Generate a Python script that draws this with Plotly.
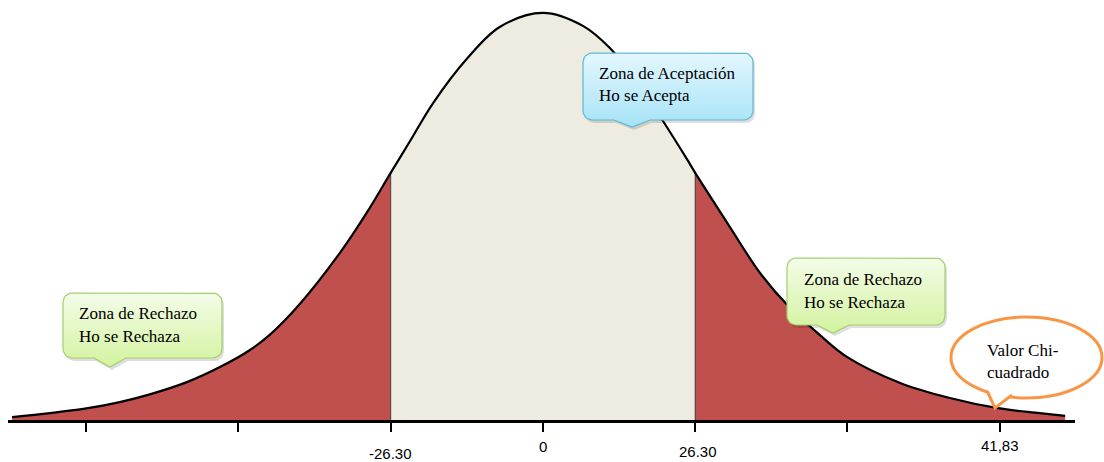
import math

import plotly.graph_objects as go

# curve: x in test units, height as % of the peak
CURVE_X = [-91.7, -85.1, -78.6, -73.1, -67.9, -61.5, -55.8, -50.6, -47.2, -42.0,
           -35.1, -30.4, -26.3, -23.0, -19.0, -13.1, -7.4, 0.0, 6.9, 11.6,
           16.0, 20.7, 24.9, 26.3, 32.3, 37.5, 42.5, 47.8, 52.5, 61.7,
           70.3, 78.6, 85.8, 90.2]
CURVE_Y = [0.7, 1.7, 2.9, 4.4, 6.3, 9.3, 13.0, 17.2, 20.9, 28.5,
           41.0, 51.0, 60.7, 68.4, 77.8, 88.8, 96.6, 100.0, 96.8, 91.3,
           83.5, 73.5, 64.0, 60.7, 47.4, 36.1, 27.8, 20.9, 15.5, 9.1,
           5.4, 2.9, 1.7, 1.0]

CRITICAL_LOW = -26.3
CRITICAL_HIGH = 26.3

TICK_VALUES = [-78.9, -52.6, -26.3, 0.0, 26.3, 52.6, 78.9]
TICK_LABELS = ["", "", "-26.30", "0", "26.30", "", "41,83"]

RED = "#c0504d"
BEIGE = "#eeece1"
SERIF = "Liberation Serif, Times New Roman, serif"
SANS = "Liberation Sans, Arial, sans-serif"

W, H = 1104, 462
ML, MR, MT, MB = 8, 29, 8, 42
X_RANGE = [-92.4, 91.9]
Y_RANGE = [0, 101.2]


def px_x(px):
    return X_RANGE[0] + (px - ML) / (W - ML - MR) * (X_RANGE[1] - X_RANGE[0])


def px_y(py):
    return Y_RANGE[0] + (H - MB - py) / (H - MT - MB) * (Y_RANGE[1] - Y_RANGE[0])


def paper_x(px):
    return (px - ML) / (W - ML - MR)


def paper_y(py):
    return (H - MB - py) / (H - MT - MB)


def callout_points(x0, y0, x1, y1, tip_x, tip_y, half, r=9):
    pts = []

    def arc(cx, cy, a0, a1):
        for i in range(7):
            a = math.radians(a0 + (a1 - a0) * i / 6)
            pts.append((cx + r * math.cos(a), cy + r * math.sin(a)))

    arc(x0 + r, y0 + r, 180, 270)
    arc(x1 - r, y0 + r, 270, 360)
    arc(x1 - r, y1 - r, 0, 90)
    pts += [(tip_x + half, y1), (tip_x, tip_y), (tip_x - half, y1)]
    arc(x0 + r, y1 - r, 90, 180)
    pts.append(pts[0])
    return pts


def region(lo, hi):
    xs = [x for x in CURVE_X if lo <= x <= hi]
    ys = [y for x, y in zip(CURVE_X, CURVE_Y) if lo <= x <= hi]
    return xs, ys


fig = go.Figure()

for lo, hi, color in [(-1e9, CRITICAL_LOW, RED), (CRITICAL_LOW, CRITICAL_HIGH, BEIGE),
                      (CRITICAL_HIGH, 1e9, RED)]:
    xs, ys = region(lo, hi)
    fig.add_trace(go.Scatter(x=xs, y=ys, mode="lines",
                             line=dict(width=0, shape="spline", smoothing=1),
                             fill="tozeroy", fillcolor=color, hoverinfo="skip"))

for c in (CRITICAL_LOW, CRITICAL_HIGH):
    h = CURVE_Y[CURVE_X.index(c)]
    fig.add_trace(go.Scatter(x=[c, c], y=[0, h], mode="lines",
                             line=dict(color="#3a3a3a", width=1), hoverinfo="skip"))

fig.add_trace(go.Scatter(x=CURVE_X, y=CURVE_Y, mode="lines",
                         line=dict(color="black", width=2.2, shape="spline", smoothing=1),
                         hoverinfo="skip"))

# callout boxes
callouts = [
    dict(box=(63, 293, 222, 358), tip=(110, 367), half=16,
         top="#f4fce9", bottom="#d3f39e", border="#a3cf6a",
         lines=["Zona de Rechazo", "Ho se Rechaza"], tx=77, ty=(313, 336)),
    dict(box=(583, 53, 753, 120), tip=(632, 127), half=18,
         top="#e4f7fe", bottom="#a6e3f7", border="#5bb8d6",
         lines=["Zona de Aceptación", "Ho se Acepta"], tx=597, ty=(73, 95)),
    dict(box=(787, 258, 945, 325), tip=(833, 333), half=16,
         top="#f4fce9", bottom="#d3f39e", border="#a3cf6a",
         lines=["Zona de Rechazo", "Ho se Rechaza"], tx=802, ty=(280, 302)),
]

annotations = []
for c in callouts:
    pts = callout_points(*c["box"], *c["tip"], c["half"])
    fig.add_trace(go.Scatter(x=[px_x(p[0] + 2) for p in pts], y=[px_y(p[1] + 3) for p in pts],
                             mode="lines", line=dict(width=0), fill="toself",
                             fillcolor="rgba(0,0,0,0.13)", hoverinfo="skip"))
    fig.add_trace(go.Scatter(x=[px_x(p[0]) for p in pts], y=[px_y(p[1]) for p in pts],
                             mode="lines", line=dict(color=c["border"], width=1.2), fill="toself",
                             fillgradient=dict(type="vertical",
                                               colorscale=[[0, c["bottom"]], [1, c["top"]]]),
                             hoverinfo="skip"))
    for text, ty in zip(c["lines"], c["ty"]):
        annotations.append(dict(x=paper_x(c["tx"]), y=paper_y(ty), xref="paper", yref="paper",
                                xanchor="left", yanchor="middle", showarrow=False, text=text,
                                font=dict(family=SERIF, size=17, color="black")))

# orange speech ellipse
ORANGE = "#f79646"
shapes = [
    dict(type="circle", xref="paper", yref="paper", x0=paper_x(951), x1=paper_x(1102),
         y0=paper_y(398), y1=paper_y(317), line=dict(color=ORANGE, width=3), fillcolor="white",
         layer="above"),
    dict(type="path", xref="paper", yref="paper", layer="above", line=dict(width=0),
         fillcolor="white",
         path="M {} {} L {} {} L {} {} L {} {} L {} {} Z".format(
             paper_x(989), paper_y(391), paper_x(995), paper_y(408), paper_x(1012), paper_y(393),
             paper_x(1012), paper_y(386), paper_x(989), paper_y(386))),
    dict(type="path", xref="paper", yref="paper", layer="above",
         line=dict(color=ORANGE, width=3),
         path="M {} {} L {} {} L {} {}".format(
             paper_x(988), paper_y(393), paper_x(995), paper_y(408), paper_x(1012), paper_y(395))),
]
for text, ty in [("Valor Chi-", 350), ("cuadrado", 372)]:
    annotations.append(dict(x=paper_x(985), y=paper_y(ty), xref="paper", yref="paper",
                            xanchor="left", yanchor="middle", showarrow=False, text=text,
                            font=dict(family=SERIF, size=17, color="black")))

# tick labels sit at slightly different heights in the original
label_shift = {"-26.30": (0, -33), "0": (0, -26), "26.30": (3, -31), "41,83": (0, -25)}
for val, lab in zip(TICK_VALUES, TICK_LABELS):
    if not lab:
        continue
    dx, dy = label_shift[lab]
    annotations.append(dict(x=val, y=0, xref="x", yref="paper", xanchor="center",
                            yanchor="middle", showarrow=False, text=lab, xshift=dx, yshift=dy,
                            font=dict(family=SANS, size=15, color="black")))

fig.update_layout(
    width=W, height=H,
    margin=dict(l=ML, r=MR, t=MT, b=MB),
    paper_bgcolor="white",
    plot_bgcolor="white",
    showlegend=False,
    annotations=annotations,
    shapes=shapes,
    xaxis=dict(range=X_RANGE, showgrid=False, zeroline=False, showline=True, linecolor="black",
               linewidth=3, ticks="outside", ticklen=9, tickwidth=2, tickcolor="black",
               tickvals=TICK_VALUES, ticktext=[""] * len(TICK_VALUES), fixedrange=True),
    yaxis=dict(range=Y_RANGE, visible=False, fixedrange=True),
)

fig.write_html("out.html", config={"displayModeBar": False},
               post_script="document.body.style.margin='0';")
